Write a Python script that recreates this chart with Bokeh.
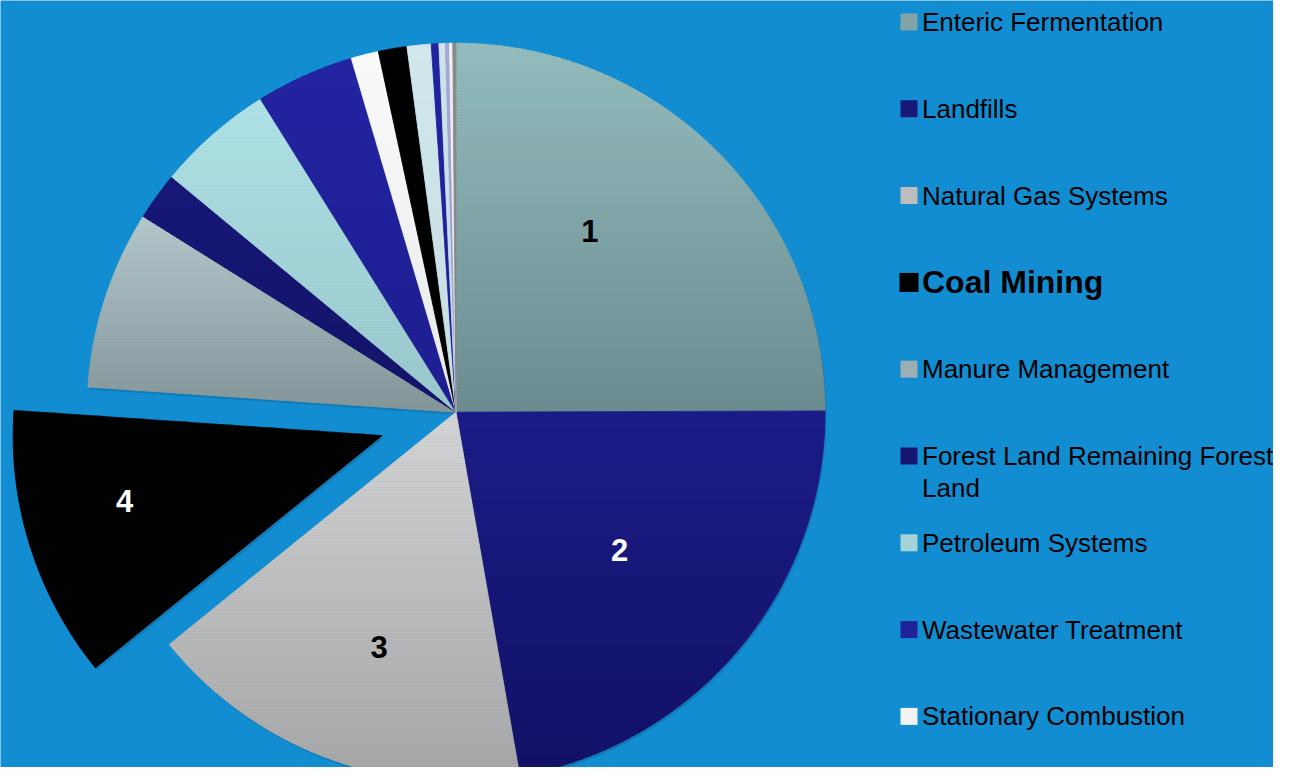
import math
import numpy as np
from bokeh.plotting import figure
from bokeh.models import Range1d
from bokeh.embed import file_html
from bokeh.resources import INLINE
from bokeh.core.properties import value

# ---------------- data ----------------
sources = [
    "Enteric Fermentation", "Landfills", "Natural Gas Systems", "Coal Mining",
    "Manure Management", "Forest Land Remaining Forest Land", "Petroleum Systems",
    "Wastewater Treatment", "Stationary Combustion", "Rice Cultivation",
    "Abandoned Underground Coal Mines", "Mobile Combustion", "Composting",
    "Petrochemical Production", "Iron and Steel Production",
    "Field Burning of Agricultural Residues",
]
shares = [24.9, 22.25, 16.9, 11.9, 7.8, 2.1, 5.1, 4.3, 1.2, 1.25, 1.05,
          0.33, 0.28, 0.18, 0.14, 0.14]
slice_numbers = ["1", "2", "3", "4"]
legend_items = 9          # only the first nine sources appear in the legend
highlight = "Coal Mining"

# ---------------- styling ----------------
BG = "#128DD1"
top_colors = ["#95BDBD", "#1C1C88", "#D4D4D4", "#000000", "#B4C8CB", "#181878",
              "#B0E2E6", "#2424A2", "#FAFAFA", "#000000", "#D0E8EC", "#2323A0",
              "#CCE6EA", "#A8A8D8", "#F5F5F5", "#8C8C8C"]
bottom_colors = ["#6D8C90", "#121266", "#A6A6A6", "#000000", "#849699", "#141468",
                 "#9AC6CB", "#1E1E90", "#EBEBEB", "#000000", "#C6DEE3", "#1E1E92",
                 "#C4DEE3", "#A0A0D0", "#EAEAEA", "#858585"]
number_colors = ["#000000", "#FFFFFF", "#000000", "#FFFFFF"]
FONT = "Liberation Sans"

W, H = 1273, 767
CX, CY = 455.5, 411.7   # pie centre (screen px)
R = 369.0
EXPLODE = 0.21 * R
BAND = 3.0
label_rfrac = [0.61, 0.58, 0.67, 0.72]
label_nudge_deg = [8.4, -0.2, 2.4, -3.3]


def sy(y):
    """screen y -> data y"""
    return -y


def hex2rgb(h):
    h = h.lstrip("#")
    return [int(h[i:i + 2], 16) for i in (0, 2, 4)]


def mix(c0, c1, t):
    a, b = hex2rgb(c0), hex2rgb(c1)
    return "#%02x%02x%02x" % tuple(int(round(a[k] + (b[k] - a[k]) * t)) for k in range(3))


def clip(poly, y0, keep_above):
    out = []
    n = len(poly)
    for i in range(n):
        p0, p1 = poly[i - 1], poly[i]
        in0 = (p0[1] >= y0) if keep_above else (p0[1] <= y0)
        in1 = (p1[1] >= y0) if keep_above else (p1[1] <= y0)
        if in1:
            if not in0:
                t = (y0 - p0[1]) / (p1[1] - p0[1])
                out.append((p0[0] + t * (p1[0] - p0[0]), y0))
            out.append(p1)
        elif in0:
            t = (y0 - p0[1]) / (p1[1] - p0[1])
            out.append((p0[0] + t * (p1[0] - p0[0]), y0))
    return out


p = figure(width=W, height=H, output_backend="svg", toolbar_location=None,
           x_range=Range1d(0, W), y_range=Range1d(-H, 0), min_border=0)
p.axis.visible = False
p.grid.visible = False
p.outline_line_color = None
p.background_fill_color = BG
p.border_fill_color = BG

vals = np.array(shares, dtype=float)
fr = vals / vals.sum()
cum_end = np.cumsum(fr)
cum_start = cum_end - fr
start = math.pi / 2 - 2 * math.pi * cum_end
end = math.pi / 2 - 2 * math.pi * cum_start
mid = (start + end) / 2

hi = sources.index(highlight)
xs, ys = [], []
for i in range(len(sources)):
    off = EXPLODE if i == hi else 0.0
    xs.append(CX + off * math.cos(mid[i]))
    ys.append(sy(CY) + off * math.sin(mid[i]))

# soft shadow
p.wedge(x=[x + 1.5 for x in xs], y=[y - 2.5 for y in ys], radius=R,
        start_angle=start, end_angle=end, fill_color="#0A4F78",
        fill_alpha=0.3, line_color=None)

# slices with a vertical gradient, built as horizontal bands
bx, by, bc = [], [], []
for i in range(len(sources)):
    n = max(3, int(abs(end[i] - start[i]) / math.radians(0.3)) + 2)
    t = np.linspace(start[i], end[i], n)
    poly = [(xs[i], ys[i])] + [(xs[i] + R * math.cos(a), ys[i] + R * math.sin(a)) for a in t]
    ytop = max(q[1] for q in poly)
    ybot = min(q[1] for q in poly)
    span = max(ytop - ybot, 1e-6)
    yb = ytop
    while yb > ybot:
        y_lo = max(yb - BAND, ybot)
        part = clip(clip(poly, y_lo, True), yb, False)
        if len(part) >= 3:
            tt = (ytop - (yb + y_lo) / 2) / span
            bx.append([q[0] for q in part])
            by.append([q[1] for q in part])
            bc.append(mix(top_colors[i], bottom_colors[i], tt))
        yb = y_lo
p.patches(xs=bx, ys=by, fill_color=bc, line_color=bc, line_width=0.8)

# slice number labels
lx, ly = [], []
for k in range(len(slice_numbers)):
    a = mid[k] + math.radians(label_nudge_deg[k])
    lx.append(xs[k] + label_rfrac[k] * R * math.cos(a))
    ly.append(ys[k] + label_rfrac[k] * R * math.sin(a))
p.text(x=lx, y=ly, text=slice_numbers, text_color=number_colors,
       text_font=value(FONT), text_font_size="31px", text_font_style="bold",
       text_align="center", text_baseline="middle")

# legend (manual)
LEG_X, LEG_Y, LEG_STEP, LINE_H = 908.5, 21.5, 86.8, 32
for i in range(legend_items):
    yc = LEG_Y + i * LEG_STEP
    big = sources[i] == highlight
    p.scatter(x=[LEG_X], y=[sy(yc)], marker="square", size=19 if big else 17,
              fill_color=mix(top_colors[i], bottom_colors[i], 0.5), line_color=None)
    name = sources[i]
    lines = [name] if len(name) <= 28 else [name[:28].rstrip(), name[28:].strip()]
    for j, ln in enumerate(lines):
        p.text(x=[921.5], y=[sy(yc + j * LINE_H)], text=[ln], text_color="#000000",
               text_font=value(FONT), text_font_size="32px" if big else "26px",
               text_font_style="bold" if big else "normal",
               text_align="left", text_baseline="middle")

open("out.html", "w").write(file_html(p, INLINE))
